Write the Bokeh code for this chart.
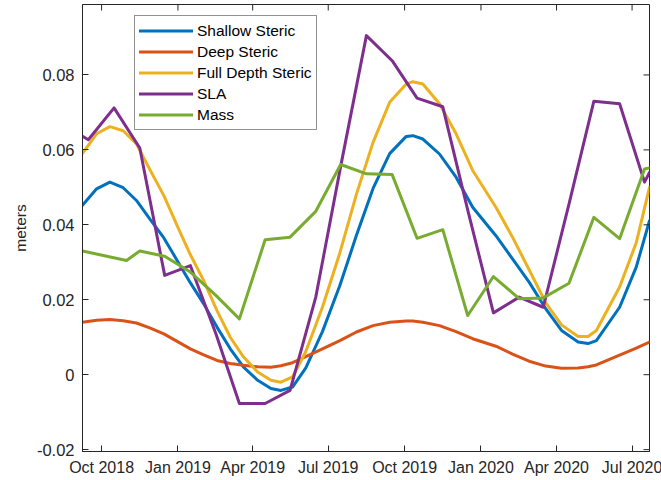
import math
import pandas as pd
from bokeh.plotting import figure
from bokeh.models import Range1d, FixedTicker, Legend, LegendItem
from bokeh.embed import file_html
from bokeh.resources import INLINE

# ---------------- data ----------------
steric_dates = [
    "2018-09-08", "2018-09-25", "2018-10-11", "2018-10-27", "2018-11-12",
    "2018-11-28", "2018-12-15", "2018-12-31", "2019-01-16", "2019-02-01",
    "2019-02-17", "2019-03-05", "2019-03-21", "2019-04-07", "2019-04-23",
    "2019-05-05", "2019-05-19", "2019-06-04", "2019-06-24", "2019-07-15",
    "2019-08-04", "2019-08-24", "2019-09-13", "2019-10-03", "2019-10-11",
    "2019-10-23", "2019-11-12", "2019-12-02", "2019-12-22", "2020-01-19",
    "2020-02-08", "2020-02-28", "2020-03-19", "2020-04-07", "2020-04-27",
    "2020-05-09", "2020-05-19", "2020-06-16", "2020-07-06", "2020-07-22",
]
shallow_steric = [
    0.0452, 0.0496, 0.0514, 0.0499, 0.0465, 0.0416, 0.0365, 0.0305, 0.0245, 0.0189,
    0.0127, 0.0069, 0.0020, -0.0015, -0.0037, -0.0042, -0.0033, 0.0018, 0.0115, 0.0238,
    0.0372, 0.0497, 0.0590, 0.0636, 0.0638, 0.0629, 0.0589, 0.0527, 0.0447, 0.0371,
    0.0309, 0.0247, 0.0176, 0.0118, 0.0087, 0.0083, 0.0091, 0.0180, 0.0287, 0.0411,
]
deep_steric = [
    0.0140, 0.0145, 0.0147, 0.0144, 0.0138, 0.0125, 0.0109, 0.0089, 0.0069, 0.0053,
    0.0038, 0.0030, 0.0025, 0.0021, 0.0020, 0.0024, 0.0032, 0.0048, 0.0069, 0.0091,
    0.0114, 0.0131, 0.0140, 0.0143, 0.0143, 0.0140, 0.0131, 0.0115, 0.0096, 0.0076,
    0.0055, 0.0036, 0.0023, 0.0017, 0.0018, 0.0021, 0.0026, 0.0052, 0.0071, 0.0087,
]
full_depth_steric = [
    0.0591, 0.0643, 0.0662, 0.0651, 0.0616, 0.0548, 0.0478, 0.0398, 0.0320, 0.0251,
    0.0171, 0.0100, 0.0047, 0.0007, -0.0015, -0.0020, -0.0006, 0.0062, 0.0180, 0.0325,
    0.0482, 0.0620, 0.0727, 0.0776, 0.0782, 0.0776, 0.0723, 0.0643, 0.0545, 0.0447,
    0.0367, 0.0280, 0.0192, 0.0133, 0.0102, 0.0102, 0.0118, 0.0234, 0.0352, 0.0500,
]

sla_dates = [
    "2018-09-08", "2018-09-15", "2018-10-16", "2018-11-16", "2018-12-16",
    "2019-01-16", "2019-02-16", "2019-03-16", "2019-04-16", "2019-05-16",
    "2019-06-16", "2019-07-16", "2019-08-16", "2019-09-16", "2019-10-16",
    "2019-11-16", "2019-12-16", "2020-01-16", "2020-02-16", "2020-03-16",
    "2020-04-16", "2020-05-16", "2020-06-16", "2020-07-16", "2020-07-22",
]
sla = [
    0.0636, 0.0627, 0.0712, 0.0605, 0.0265, 0.0291, 0.0107, -0.0077, -0.0077, -0.0042,
    0.0207, 0.0556, 0.0905, 0.0838, 0.0738, 0.0715, 0.0440, 0.0165, 0.0207, 0.0180,
    0.0455, 0.0730, 0.0723, 0.0514, 0.0540,
]

mass_dates = [
    "2018-09-08", "2018-10-31", "2018-11-16", "2018-12-16", "2019-01-16",
    "2019-02-16", "2019-03-16", "2019-04-16", "2019-05-16", "2019-06-16",
    "2019-07-16", "2019-08-16", "2019-09-16", "2019-10-16", "2019-11-16",
    "2019-12-16", "2020-01-16", "2020-02-16", "2020-03-16", "2020-04-16",
    "2020-05-16", "2020-06-16", "2020-07-16", "2020-07-22",
]
mass = [
    0.0330, 0.0305, 0.0330, 0.0316, 0.0274, 0.0211, 0.0149, 0.0360, 0.0367, 0.0436,
    0.0561, 0.0536, 0.0534, 0.0364, 0.0387, 0.0158, 0.0262, 0.0203, 0.0205, 0.0244,
    0.0420, 0.0363, 0.0549, 0.0552,
]

x_tick_dates = ["2018-10-01", "2019-01-01", "2019-04-01", "2019-07-01",
                "2019-10-01", "2020-01-01", "2020-04-01", "2020-07-01"]
x_tick_labels = ["Oct 2018", "Jan 2019", "Apr 2019", "Jul 2019",
                 "Oct 2019", "Jan 2020", "Apr 2020", "Jul 2020"]
y_ticks = [-0.02, 0.0, 0.02, 0.04, 0.06, 0.08]
y_tick_labels = ["-0.02", "0", "0.02", "0.04", "0.06", "0.08"]

series_names = ["Shallow Steric", "Deep Steric", "Full Depth Steric", "SLA", "Mass"]
series_colors = ["#0072BD", "#D95319", "#EDB120", "#7E2F8E", "#77AC30"]

# ---------------- figure ----------------
FONT = "Liberation Sans"
AXC = "#262626"
Y_MIN, Y_MAX = -0.0205, 0.0988

def to_ms(ds):
    return [float(pd.Timestamp(d).value // 10**6) for d in ds]

steric_x = pd.to_datetime(steric_dates)
sla_x = pd.to_datetime(sla_dates)
mass_x = pd.to_datetime(mass_dates)
x_tick_ms = to_ms(x_tick_dates)
x_start, x_end = steric_x.min(), steric_x.max()

p = figure(frame_width=567, frame_height=447,
           x_axis_type="datetime",
           x_range=Range1d(x_start, x_end),
           y_range=Range1d(Y_MIN, Y_MAX),
           output_backend="svg", toolbar_location=None,
           min_border_left=72, min_border_right=14,
           min_border_top=1, min_border_bottom=29)
p.margin = (3, 0, 0, 8)
p.outline_line_color = AXC
p.outline_line_width = 1
p.outline_line_alpha = 1.0
p.xgrid.visible = False
p.ygrid.visible = False
p.background_fill_color = "white"
p.border_fill_color = "white"

xs = [steric_x, steric_x, steric_x, sla_x, mass_x]
ys = [shallow_steric, deep_steric, full_depth_steric, sla, mass]
renderers = []
for x, y, c in zip(xs, ys, series_colors):
    r = p.line(x=list(x), y=y, line_color=c, line_width=3,
               line_join="round", line_cap="round")
    renderers.append(r)

# mirrored inward ticks on the top and right edges of the box
p.scatter(x=x_tick_ms, y=[Y_MAX] * len(x_tick_ms), marker="dash",
          angle=math.pi / 2, size=12, line_color=AXC, line_width=1)
p.scatter(x=[x_end] * len(y_ticks), y=y_ticks, marker="dash",
          size=12, line_color=AXC, line_width=1)

def style_axis(ax):
    ax.axis_line_color = AXC
    ax.axis_line_width = 1
    ax.major_tick_line_color = AXC
    ax.major_tick_in = 6
    ax.major_tick_out = 0
    ax.minor_tick_line_color = None
    ax.major_label_text_font = FONT
    ax.major_label_text_color = AXC
    ax.major_label_text_font_size = "16px"

xax = p.xaxis[0]
xax.ticker = FixedTicker(ticks=x_tick_ms)
xax.major_label_overrides = dict(zip(x_tick_ms, x_tick_labels))
style_axis(xax)
xax.major_label_standoff = 7

yax = p.yaxis[0]
yax.ticker = FixedTicker(ticks=y_ticks)
yax.major_label_overrides = dict(zip(y_ticks, y_tick_labels))
style_axis(yax)
yax.major_label_text_font_size = "16.5px"
yax.major_label_standoff = 8
yax.axis_label = "meters"
yax.axis_label_text_font = FONT
yax.axis_label_text_font_size = "15.5px"
yax.axis_label_text_font_style = "normal"
yax.axis_label_text_color = AXC
yax.axis_label_standoff = 5

legend = Legend(items=[LegendItem(label=n, renderers=[r])
                       for n, r in zip(series_names, renderers)],
                location=(52, 321))
legend.border_line_color = AXC
legend.border_line_width = 1
legend.background_fill_color = "white"
legend.background_fill_alpha = 1.0
legend.label_text_font = FONT
legend.label_text_font_size = "15.5px"
legend.label_text_color = "#000000"
legend.glyph_width = 54
legend.glyph_height = 21
legend.label_height = 21
legend.spacing = 0
legend.padding = 4
legend.label_standoff = 4
legend.margin = 0
p.add_layout(legend)

open("out.html", "w").write(file_html(p, INLINE))
